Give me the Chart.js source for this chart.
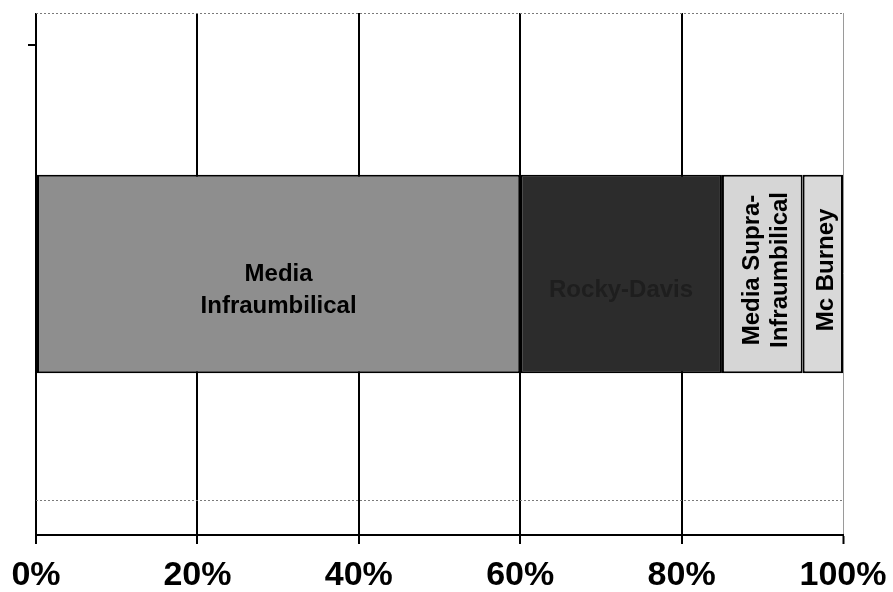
<!DOCTYPE html>
<html>
<head>
<meta charset="utf-8">
<script src="https://cdn.jsdelivr.net/npm/chart.js@4/dist/chart.umd.min.js"></script>
<style>
  html, body { margin: 0; padding: 0; background: #ffffff; }
  #wrap { width: 893px; height: 592px; position: relative; }
</style>
</head>
<body>
<div id="wrap"><canvas id="chart"></canvas></div>
<script>
// tipo de incision, porcentaje del total
const categories = [""];
const seriesNames = ["Media Infraumbilical", "Rocky-Davis", "Media Supra-Infraumbilical", "Mc Burney"];
const seriesValues = [60, 25, 10, 5];
const seriesColors = ["#8e8e8e", "#2c2c2c", "#d6d6d6", "#d9d9d9"];
// how each label is written inside its segment
const seriesLabelLines = [["Media", "Infraumbilical"], ["Rocky-Davis"], ["Media Supra-", "Infraumbilical"], ["Mc Burney"]];
const seriesLabelVertical = [false, false, true, true];
const seriesLabelColors = ["#000000", "#1e1e1e", "#000000", "#000000"];
const tickValues = [0, 20, 40, 60, 80, 100];

const FONT = "'Liberation Sans', Arial, sans-serif";

const segmentLabels = {
    id: "segmentLabels",
    afterDatasetsDraw(chart) {
        const { ctx } = chart;
        ctx.save();
        ctx.font = `bold 24px ${FONT}`;
        ctx.textAlign = "center";
        ctx.textBaseline = "middle";
        chart.data.datasets.forEach((ds, i) => {
            const bar = chart.getDatasetMeta(i).data[0];
            if (!bar) return;
            const cx = (bar.x + bar.base) / 2;
            const cy = bar.y;
            const lines = seriesLabelLines[i];
            ctx.fillStyle = seriesLabelColors[i];
            if (seriesLabelVertical[i]) {
                ctx.save();
                ctx.translate(cx + 4, cy - 4);
                ctx.rotate(-Math.PI / 2);
                lines.forEach((line, k) => {
                    ctx.fillText(line, 0, (k - (lines.length - 1) / 2) * 28);
                });
                ctx.restore();
            } else {
                lines.forEach((line, k) => {
                    ctx.fillText(line, cx, cy + 16 + (k - (lines.length - 1) / 2) * 32);
                });
            }
        });
        ctx.restore();
    },
};

// frame bits the original plot shows: dotted top border, a dotted guide near the bottom, a lone y tick
const plotFrame = {
    id: "plotFrame",
    beforeDatasetsDraw(chart) {
        const { ctx, chartArea } = chart;
        const { left, right, top, bottom } = chartArea;
        const h = bottom - top;
        ctx.save();
        ctx.strokeStyle = "#7a7a7a";
        ctx.lineWidth = 1;
        ctx.setLineDash([2, 2]);
        ctx.beginPath();
        ctx.moveTo(left, top + 0.5);
        ctx.lineTo(right, top + 0.5);
        const guideY = Math.round(top + h * 0.933) + 0.5;
        ctx.moveTo(left, guideY);
        ctx.lineTo(right, guideY);
        ctx.stroke();
        ctx.setLineDash([]);
        ctx.strokeStyle = "#000000";
        ctx.lineWidth = 2;
        ctx.beginPath();
        const tickY = Math.round(top + h * 0.061);
        ctx.moveTo(left - 8, tickY);
        ctx.lineTo(left, tickY);
        ctx.stroke();
        ctx.restore();
    },
};

new Chart(document.getElementById("chart"), {
    type: "bar",
    data: {
        labels: categories,
        datasets: seriesNames.map((name, i) => ({
            label: name,
            data: [seriesValues[i]],
            backgroundColor: seriesColors[i],
            borderColor: "#000000",
            borderWidth: 2,
            borderSkipped: false,
            barPercentage: 0.38,
            categoryPercentage: 1,
        })),
    },
    options: {
        indexAxis: "y",
        responsive: true,
        maintainAspectRatio: false,
        animation: false,
        layout: { padding: { left: 36, right: 50, top: 13, bottom: 0 } },
        plugins: {
            legend: { display: false },
            tooltip: { enabled: false },
        },
        scales: {
            x: {
                stacked: true,
                min: 0,
                max: 100,
                afterBuildTicks: (scale) => {
                    scale.ticks = tickValues.map((v) => ({ value: v }));
                },
                afterFit: (scale) => {
                    scale.height = 57;
                },
                grid: {
                    color: (c) => (c.index === tickValues.length - 1 ? "#9a9a9a" : "#000000"),
                    lineWidth: (c) => (c.index === tickValues.length - 1 ? 1 : 2),
                    tickColor: "#000000",
                    tickWidth: 2,
                    tickLength: 20,
                    tickBorderDash: [8, 40],
                },
                border: { display: true, color: "#000000", width: 2 },
                ticks: {
                    color: "#000000",
                    padding: 0,
                    maxRotation: 0,
                    font: { family: FONT, size: 34, weight: "bold" },
                    callback: (v) => v + "%",
                },
            },
            y: {
                stacked: true,
                display: false,
            },
        },
    },
    plugins: [plotFrame, segmentLabels],
});
</script>
</body>
</html>
